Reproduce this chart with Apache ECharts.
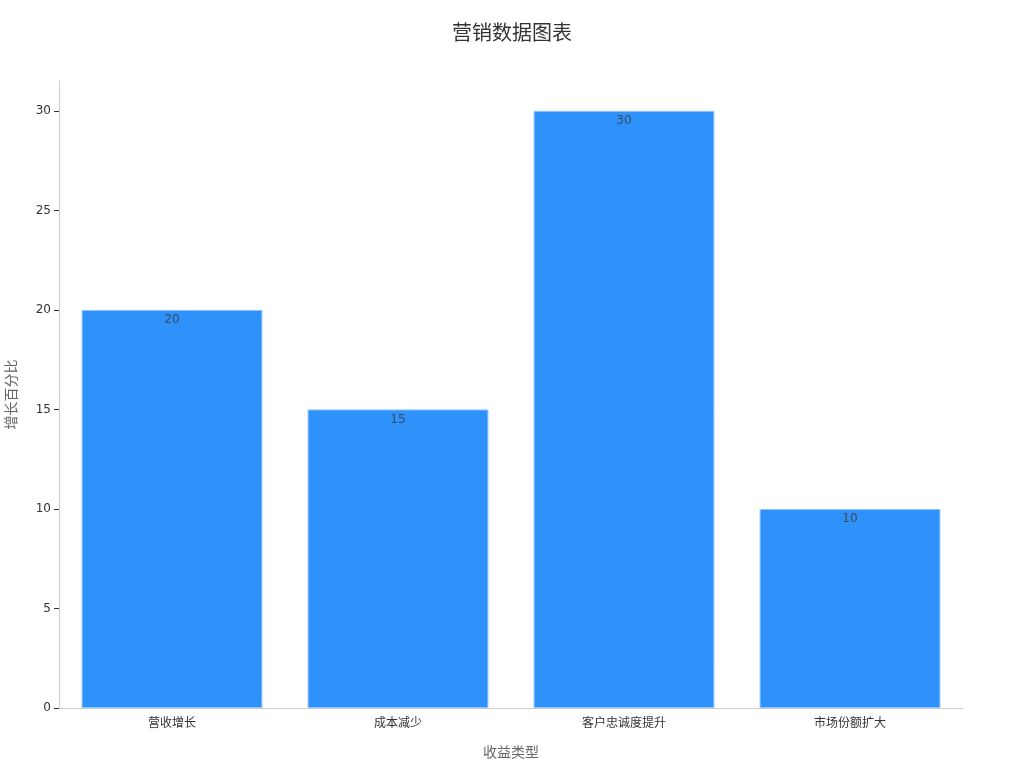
<!DOCTYPE html>
<html>
<head>
<meta charset="utf-8">
<script src="https://cdn.jsdelivr.net/npm/echarts@6/dist/echarts.min.js"></script>
<style>
  html, body { margin: 0; padding: 0; background: #fff; }
  #chart { width: 1024px; height: 768px; }
</style>
</head>
<body>
<div id="chart"></div>
<script>
const categories = ['营收增长', '成本减少', '客户忠诚度提升', '市场份额扩大'];
const growthValues = [20, 15, 30, 10];
const yTicks = [0, 5, 10, 15, 20, 25, 30];

const font = '"DejaVu Sans", "Noto Sans CJK SC", sans-serif';
const chart = echarts.init(document.getElementById('chart'));

chart.setOption({
    backgroundColor: '#fff',
    animation: false,
    textStyle: { fontFamily: font },
    title: {
        text: '营销数据图表',
        left: 'center',
        top: 20,
        textStyle: { fontSize: 20, fontWeight: 'normal', color: '#333', fontFamily: font }
    },
    grid: { left: 59, right: 61, top: 81, bottom: 60, containLabel: false, outerBoundsMode: 'none' },
    xAxis: {
        type: 'category',
        data: categories,
        name: '收益类型',
        nameLocation: 'middle',
        nameGap: 38,
        nameTextStyle: { fontSize: 14, color: '#666', fontFamily: font },
        axisLine: { lineStyle: { color: '#ccc' } },
        axisTick: { alignWithLabel: true, length: 5, lineStyle: { color: '#999' } },
        axisLabel: { fontSize: 12, color: '#333', margin: 10, fontFamily: font }
    },
    yAxis: {
        type: 'value',
        min: 0,
        max: 31.5,
        interval: 5,
        name: '增长百分比',
        nameLocation: 'middle',
        nameGap: 40,
        nameTextStyle: { fontSize: 14, color: '#666', fontFamily: font },
        axisLine: { show: true, lineStyle: { color: '#ccc' } },
        axisTick: { show: true, length: 5, customValues: yTicks, lineStyle: { color: '#333' } },
        axisLabel: { fontSize: 12, color: '#333', margin: 8, customValues: yTicks, fontFamily: font },
        splitLine: { show: false }
    },
    series: [{
        type: 'bar',
        data: growthValues,
        barCategoryGap: '20%',
        itemStyle: { color: '#2e92fa', borderColor: '#8cc4ff', borderWidth: 1 },
        label: {
            show: true,
            position: 'insideTop',
            distance: 4,
            fontSize: 12,
            color: '#3a4a5c',
            fontFamily: font
        }
    }]
});
</script>
</body>
</html>
